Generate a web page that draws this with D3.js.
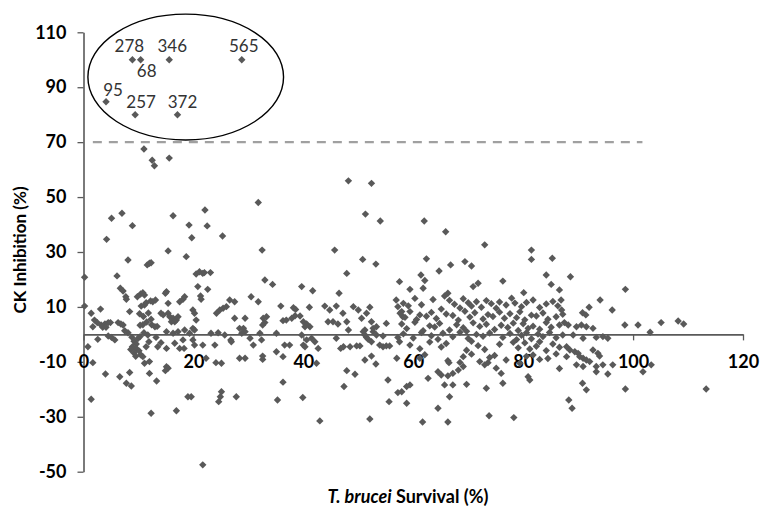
<!DOCTYPE html>
<html><head><meta charset="utf-8">
<script src="https://cdn.jsdelivr.net/npm/d3@7"></script>
<style>html,body{margin:0;padding:0;background:#fff;} svg{display:block;}</style>
</head><body><svg id="chart" width="760" height="513"></svg>
<script>
// ---------- data ----------
const xTicks = [0, 20, 40, 60, 80, 100, 120];
const yTicks = [-50, -30, -10, 10, 30, 50, 70, 90, 110];
const xTitleItalic = "T. brucei";
const xTitleRest = " Survival (%)";
const yTitle = "CK Inhibition (%)";
const threshold = 70;
const thresholdRange = [1.7, 101.7];

// highlighted hits (circled)
const hitIds = ["278", "68", "346", "565", "95", "257", "372"];
const hitSurvival = [8.9, 10.4, 15.6, 28.8, 4.1, 9.4, 17.1];
const hitInhibition = [100, 100, 100, 100, 84.7, 80, 80];
// ellipse enclosing hits, in data units: [cx, cy, rx, ry]
const hitEllipse = [18.6, 93.7, 17.8, 22.9];

// all other screened compounds [survival %, inhibition %]
const screenPoints = [
 [4.2,34.6],[5.1,42.3],[7,44.1],[8.9,39.6],[16.3,43.2],[15.4,30.4],[19.2,39.8],[19.7,35.2],[22.1,45.3],[22.5,39.5],[25.3,35.8],[31.8,48],[32.5,30.7],[11,67.5],[12.5,63.4],[12.9,61.4],[15.6,64.2],
 [0.2,20.8],[0.2,10.3],[1.4,7.7],[3.1,9.2],[2,5.2],[2.5,4.3],[1.7,2.8],[3.2,3.4],[3.9,3.8],[4.5,4.3],[4.9,4.3],[3.5,2.6],[4.1,2.6],[2.6,-1.8],[0.8,-4.5],[1.7,-10.3],[1.4,-23.6],[4,-14.4],[4.5,-0.6],[5.1,-1.1],[5.7,-2],[6.1,21.3],[6.7,16.8],[7.2,15.8],[7.7,13.7],[7.8,12.8],[8.1,27.1],[8.4,8.3],[6.3,4.3],[6.8,3.8],[7.2,3.4],[7.5,1.3],[8.1,0.6],[6.6,-15.4],[8.4,-13.9],[7.8,-17.8],[8.7,-18.8],
 [8.8,-1],[9.2,-2.5],[9.6,-3.5],[8.9,-4.5],[8.6,-5.5],[9.7,-5.3],[9.2,-6.8],[9.5,-8],[10.1,-6],[10.4,-7.4],[9.9,-1.5],[10.3,-0.8],
 [11.6,25.3],[12,25.9],[12.3,26.1],[9.8,13.7],[10.4,14.7],[10.8,15.2],[11.1,14.3],[10.5,10.3],[11.1,10.7],[11.4,11.5],[12.2,12.2],[12.6,11.9],[13.1,12.5],
 [10.2,7.5],[10.9,6.5],[11.8,7.8],[12.3,5.5],[11.5,4.5],[12.4,3.5],[10.8,3.5],[10.3,3.3],[13,2.8],[13.4,2.9],
 [11,0.6],[11.7,-0.2],[13.2,-1.1],[14.1,-3],[15.1,-5.1],[13.5,-4.5],[11.9,-2.7],[11.4,-4.5],[10.8,-8.1],[12,-9.9],[11.1,-10.5],[12,-14.2],[13.3,-17],[15.1,-11.8],[15.4,-12.3],[14.9,-13.2],
 [15.1,15.5],[14.9,15],[15.4,11.3],[14.1,7.7],[14.5,7.1],[15.4,7.7],[15.7,6.4],[16.3,5.9],[16,4.6],[16.6,4.6],[16.9,5.2],[17.2,6.4],
 [15.1,1],[16.3,0.4],[17.2,1],[18.4,1.6],[19.3,0.4],[17.5,11.9],[18.1,12.8],[18.4,13.7],[18.7,28.3],
 [20.5,22],[21.1,22.8],[21.7,22.2],[22,22.5],[23.1,22.5],[20.8,17.4],[21.3,14],[21.4,12.8],[22.6,16.4],[19.9,8.9],[20.2,7.7],[20.5,5.2],[19.9,2.2],[20.2,1.6],
 [18.1,-2],[19.9,-2],[18.3,-5.1],[20.2,-3.9],[21.7,-3.9],[22.3,-8.7],[23.9,-3.9],[24.1,-10.3],[25.1,-10.5],[23.2,0.4],[24.5,0.6],[25.7,-0.2],[26.8,-2],
 [24.2,7.7],[24.8,8.9],[25.4,9.5],[26,10.1],[26.6,12.5],[27.5,11.9],[27.5,5.9],[28.4,2.2],[28.4,-8.7],[26.9,-2.7],[17.5,-5.1],[16.6,-3.2],
 [19,-22.7],[19.6,-22.7],[25.1,-20.9],[24.9,-22.7],[24.6,-24.5],[27.8,-22.7],[16.9,-27.8],[12.3,-28.7],[21.7,-47.5],
 [45.7,30.7],[50.8,27.3],[53.2,25.6],[47.9,22.2],[33,19.8],[34.4,18.2],[39.7,17.4],[41.7,15.9],[46.5,15],[30.5,13.7],[31.8,11.9],[29.4,5.9],[29.1,2.2],[29.4,1],[32.7,5.9],[33.3,6.4],[33,4.3],[32.6,3.4],[35.9,10.3],[36.3,5],[36.9,5.2],[37.9,5.9],[38.2,9.7],[38.6,9.1],[38.5,6.8],[39.4,6.7],[40,4.6],[40.6,3.8],[41.2,2.8],[41.1,9.9],[40.3,2.8],[43.9,10.3],[44.8,8.9],[44.5,4.6],[45.4,4.6],[46.3,3.8],[46,10.3],[47.2,7.7],[47.9,4.6],[48.2,1.6],[49.1,10.1],[50,8.9],[50.6,5.9],[51.5,7.7],[52.1,9.9],[52.4,4.6],[52.7,2.2],[53.3,2.8],[51.2,1.6],[55.1,4],[56.9,12.5],[57.2,10.1],[57.9,8.3],[58.1,6.4],
 [28.8,0.4],[30.3,-1.4],[30.9,-3.9],[32.1,0.4],[32.4,-2],[35.1,0.4],[36.6,-3.9],[37.5,-3.9],[39.7,-0.2],[40,-3.9],[40.3,-4.5],[40.6,-2],[41.5,-1.4],[42.1,-2.7],[42.7,-5.1],[46,-1.4],[46.8,-5.1],[47.3,-4.5],[48.5,-4.5],[49.7,-4.2],[50.3,-4.2],[50.9,1],[51.2,-0.2],[51.5,-1.1],[51.8,-1.8],[52.4,-2.7],[52.7,1],[53.3,-0.2],[53.9,-3.9],[54.5,-4.5],[55.1,-4.2],[55.7,-4.2],[54.5,-0.6],[57.2,-1.1],[57.5,-2.7],
 [29.4,-8.7],[32.6,-7.9],[32.6,-9.1],[35.1,-6.3],[36.3,-8.1],[42.4,-10.5],[47.9,-13.2],[49.4,-14.5],[51.2,-9.3],[52.4,-7.9],[53.2,-10.8],[57,-8.7],[36.3,-17.4],[47.4,-19],[55.4,-16.6],[39.9,-23],[35.3,-23.9],[57.2,-21.2],[55.6,-24.5],[43,-31.5],[52.1,-30.8],
 [48.2,55.9],[52.4,55],[51.3,43.8],[54,41.3],[62,41.3],[65.9,37.4],[73,32.6],
 [62.4,27.5],[66.8,25.3],[69.4,26.5],[70.6,24.9],[64.7,23.1],[61.4,21.6],[62.1,19.6],[59.4,16.4],[61.8,16.8],[57.5,19.2],[76.3,19.4],[71.8,18.6],[70.9,17.4],[66.3,15],[65.7,14],[81.5,27.3],[85.3,27.7],[84.2,21.6],[85.1,18.2],[80.1,15.2],[86.6,16.2],[86.9,12.5],[81.5,30.7],
 [58.2,11.3],[59.1,10.4],[60.3,13.1],[61.5,10.8],[63.6,12.7],[65.1,9.2],[66.6,12.4],[67.5,11],[68.5,9.6],[69.1,13],[70,11.5],[70.6,10.3],[71.5,11.9],[72.4,9.9],[73.3,12.3],[74.2,11.2],[75.1,9.5],[75.7,11.8],[76.9,10.7],[77.9,13.2],[78.5,11.4],[79.7,10.1],[80.6,11.6],[81.8,12.5],[83,9.8],[84.2,11.1],[85.4,12],[86.3,10.4],
 [57.6,7.7],[58.5,6.2],[59.4,8.3],[60.6,5.4],[61.2,7.1],[62.4,6.6],[63.3,8],[64.2,5.8],[66,7.4],[67.2,6.9],[68.2,5.2],[69.4,8.4],[70.3,6.3],[71.2,7.9],[72.7,5.6],[73.6,7.2],[74.5,6.5],[75.7,8.1],[76.6,5.9],[77.6,7.5],[78.8,6.1],[79.4,8.2],[80.3,5.3],[81.5,7],[82.4,6.7],[83.6,7.8],[84.5,5.5],[86,6.4],[87.2,7.3],
 [57.9,3.8],[58.8,2.1],[60.3,4.4],[61.8,1.3],[63,3.1],[63.9,2.7],[64.8,4],[66.6,1.6],[67.9,3.5],[69.1,2.4],[69.7,1.1],[70.9,4.2],[72.1,2.9],[73.3,3.7],[74.8,1.8],[76,3.3],[77.2,2.5],[78.2,4.1],[79.1,1.4],[80,3.9],[80.9,2.2],[81.8,3],[83,1.9],[84.2,4.3],[85.1,2.6],[86.6,3.4],
 [58.2,0.2],[60,-1.3],[61.5,0.7],[63.3,-0.5],[64.5,-1.8],[65.4,0.4],[67.2,-0.9],[68.5,0.8],[70,-1.5],[71.5,0],[72.7,-0.7],[73.9,0.5],[76.3,-1.1],[77.6,0.3],[78.8,-1.9],[79.7,-0.3],[80.6,0.6],[81.5,-1.6],[82.7,0.1],[83.6,-0.8],[84.8,0.7],[86,-1.2],[87.2,-0.2],
 [59.4,-3.9],[61.2,-5.2],[63,-2.8],[65.1,-4.6],[66,-3.3],[69.7,-5.8],[70.6,-2.5],[71.8,-4.1],[73,-5.5],[75.7,-3.6],[78.2,-2.9],[79.1,-4.9],[80.3,-3.1],[81.2,-5.3],[82.4,-4.3],[83,-2.7],[84.2,-5.9],[85.4,-3.5],[86.6,-4.7],
 [61.2,-8.7],[62.1,-7.4],[66.3,-9.6],[68.5,-10.2],[69.1,-8.1],[70.6,-7.2],[72.1,-9.9],[73.9,-8.4],[74.8,-7.7],[76.9,-9.3],[79.4,-10.5],[80.6,-8],[81.8,-7.5],[83,-9.1],[84.5,-8.8],[86,-7.1],[66.5,-10.3],
 [65.1,-14.8],[66.3,-15.1],[67.2,-14.2],[68.2,-13],[69.1,-11.7],[62.7,-16],[64.5,-13.6],[75.1,-12.3],[76,-14.2],[80.9,-15.4],[81.2,-16.6],[73.6,-10.3],[73,-11.1],[86.6,-12.4],
 [58.8,-19],[59.4,-18.4],[69.7,-18.2],[67.2,-18.4],[65.7,-18.4],[76.3,-17.8],[73.3,-19.6],[66.6,-22.7],[58.8,-25.1],[64.5,-26.9],[73.8,-29.6],[78.3,-30.3],[61.7,-31.9],[66.3,-31.9],[57.9,-20.9],
 [88.6,21],[98.6,16.4],[94,12.5],[96.2,8.9],[92,9.9],[90.8,7.9],[91.4,7.1],[87,8.9],[98.5,3.4],[100.9,3.4],[105.1,4.3],[108.2,4.9],[109.2,3.8],[103.1,0.8],[87.5,4.3],[88.2,3.4],[89.7,2.8],[90.6,3.4],[91.5,2.8],[92.7,2.2],[89.1,-0.2],[90.9,-1.4],[93.3,-1.1],[94.5,-0.8],[95.4,-1.4],
 [87.9,-4.5],[88.5,-5.7],[89.4,-6.3],[90,-6.9],[90.3,-8.1],[90.9,-8.7],[91.5,-9.3],[92.1,-9.9],[92.7,-5.7],[93.6,-6.9],[93.9,-7.9],[87.9,-8.1],[89.7,-11.1],[90.9,-11.7],[93.3,-11.7],[94.5,-11.1],[96.3,-11.1],[103.3,-11.1],[93.3,-13.6],[95.4,-14.4],[101.8,-13.6],[90.8,-17.8],[91.5,-20.2],[98.6,-19.9],[113.3,-19.9],[88.3,-23.9],[88.9,-26.9]
];

// ---------- drawing ----------
const svg = d3.select("#chart");
const x = d3.scaleLinear().domain([0, 120]).range([83.5, 743]);
const y = d3.scaleLinear().domain([-50, 110]).range([471.7, 32.3]);
const axisColor = "#595959";
const markColor = "#595959";
const tickFont = "Lato, 'Open Sans', sans-serif";

svg.append("rect").attr("width", 760).attr("height", 513).attr("fill", "#fff");

// threshold dashed line
svg.append("line")
  .attr("x1", x(thresholdRange[0])).attr("x2", x(thresholdRange[1]))
  .attr("y1", y(threshold)).attr("y2", y(threshold))
  .attr("stroke", "#a0a0a0").attr("stroke-width", 2.2)
  .attr("stroke-dasharray", "9,7");

// y axis
const yAxis = svg.append("g")
  .attr("transform", `translate(${x(0)},0)`)
  .call(d3.axisLeft(y).tickValues(yTicks).tickFormat(d => String(d))
        .tickSize(6).tickSizeOuter(0).tickPadding(11));
// x axis at y = 0
const xAxis = svg.append("g")
  .attr("transform", `translate(0,${y(0)})`)
  .call(d3.axisBottom(x).tickValues(xTicks).tickFormat(d => String(d))
        .tickSize(6).tickSizeOuter(0).tickPadding(15));

[yAxis, xAxis].forEach(g => {
  g.select(".domain").attr("stroke", axisColor).attr("stroke-width", 1.6);
  g.selectAll(".tick line").attr("stroke", axisColor).attr("stroke-width", 1.3);
  g.selectAll(".tick text").attr("fill", "#000").attr("font-family", tickFont)
    .attr("font-weight", "bold").attr("font-size", 18);
});

// diamonds
const r = 3.7;
const diamond = `M0,${-r}L${r},0L0,${r}L${-r},0Z`;
svg.append("g").selectAll("path.pt")
  .data(screenPoints).join("path")
  .attr("class", "pt")
  .attr("d", diamond)
  .attr("transform", d => `translate(${x(d[0])},${y(d[1])})`)
  .attr("fill", markColor);

const hits = hitIds.map((id, i) => ({id, sx: hitSurvival[i], inh: hitInhibition[i]}));
svg.append("g").selectAll("path.hit")
  .data(hits).join("path")
  .attr("class", "hit")
  .attr("d", diamond)
  .attr("transform", d => `translate(${x(d.sx)},${y(d.inh)})`)
  .attr("fill", markColor);

// hit labels (pixel offsets from the point)
const labelOffset = {"278": [-3, -8], "68": [6, 17], "346": [3, -8], "565": [2, -8],
                     "95": [7, -6], "257": [6, -7], "372": [5, -7]};
svg.append("g").selectAll("text.lbl")
  .data(hits).join("text")
  .attr("x", d => x(d.sx) + labelOffset[d.id][0])
  .attr("y", d => y(d.inh) + labelOffset[d.id][1])
  .attr("text-anchor", "middle")
  .attr("font-family", tickFont).attr("font-size", 17)
  .attr("fill", "#333")
  .text(d => d.id);

// ellipse around hits
svg.append("ellipse")
  .attr("cx", x(hitEllipse[0])).attr("cy", y(hitEllipse[1]))
  .attr("rx", x(hitEllipse[2]) - x(0)).attr("ry", y(0) - y(hitEllipse[3]))
  .attr("fill", "none").attr("stroke", "#000").attr("stroke-width", 1.4);

// axis titles
const xt = svg.append("text")
  .attr("x", 408).attr("y", 503)
  .attr("text-anchor", "middle")
  .attr("font-family", tickFont).attr("font-weight", "bold").attr("font-size", 18)
  .attr("fill", "#000");
xt.append("tspan").attr("font-style", "italic").text(xTitleItalic);
xt.append("tspan").text(xTitleRest);

svg.append("text")
  .attr("transform", `translate(26,250) rotate(-90)`)
  .attr("text-anchor", "middle")
  .attr("font-family", tickFont).attr("font-weight", "bold").attr("font-size", 17)
  .attr("fill", "#000")
  .text(yTitle);
</script>
</body></html>
